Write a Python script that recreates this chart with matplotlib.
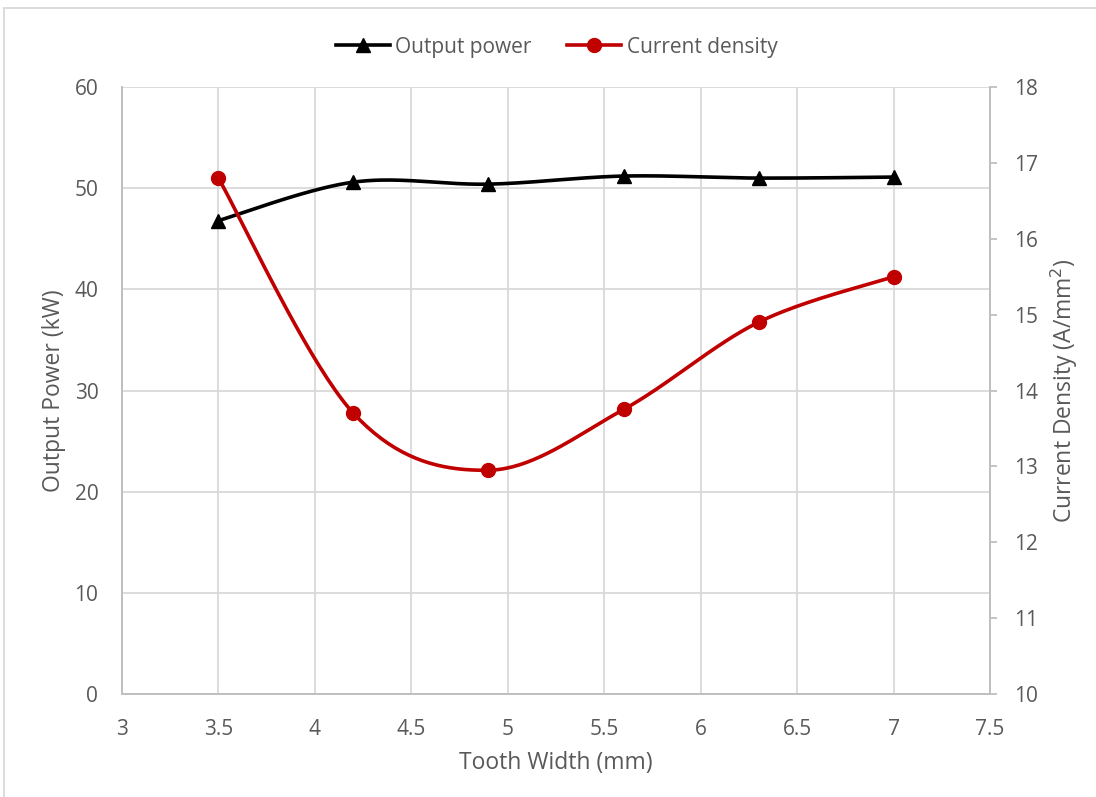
import numpy as np
import matplotlib
matplotlib.use("Agg")
import matplotlib.pyplot as plt
from matplotlib.patches import Rectangle

plt.rcParams['font.family'] = ['Open Sans', 'DejaVu Sans']

tooth_width = [3.5, 4.2, 4.9, 5.6, 6.3, 7.0]
output_power = [46.8, 50.6, 50.4, 51.2, 51.0, 51.1]
current_density = [16.8, 13.7, 12.95, 13.75, 14.9, 15.5]

x_ticks = [3, 3.5, 4, 4.5, 5, 5.5, 6, 6.5, 7, 7.5]
x_tick_labels = ['3', '3.5', '4', '4.5', '5', '5.5', '6', '6.5', '7', '7.5']
left_ticks = [0, 10, 20, 30, 40, 50, 60]
right_ticks = [10, 11, 12, 13, 14, 15, 16, 17, 18]

TEXT = '#595959'
GRID = '#d9d9d9'
AXIS = '#bfbfbf'


def smooth(ax, xs, ys, n=40):
    """Spreadsheet-style smoothed line: cubic Bezier segments with
    Catmull-Rom control points computed in display space."""
    pts = ax.transData.transform(np.column_stack([xs, ys]))
    P = np.vstack([pts[0], pts, pts[-1]])
    out = []
    for i in range(1, len(P) - 2):
        p0, p1, p2, p3 = P[i - 1], P[i], P[i + 1], P[i + 2]
        c1 = p1 + (p2 - p0) / 6.0
        c2 = p2 - (p3 - p1) / 6.0
        t = np.linspace(0, 1, n)[:, None]
        seg = ((1 - t) ** 3) * p1 + 3 * ((1 - t) ** 2) * t * c1 \
            + 3 * (1 - t) * t ** 2 * c2 + t ** 3 * p2
        out.append(seg if i == 1 else seg[1:])
    seg = np.vstack(out)
    data = ax.transData.inverted().transform(seg)
    return data[:, 0], data[:, 1]


fig = plt.figure(figsize=(10.96, 7.97), dpi=100)
ax = fig.add_axes([0.1113, 0.1292, 0.792, 0.7616])
ax2 = ax.twinx()

ax.set_xlim(3, 7.5)
ax.set_ylim(0, 60)
ax2.set_ylim(10, 18)

ax.set_xticks(x_ticks)
ax.set_xticklabels(x_tick_labels)
ax.set_yticks(left_ticks)
ax2.set_yticks(right_ticks)

ax.grid(True, color=GRID, linewidth=1.3)
ax.set_axisbelow(True)

for a in (ax, ax2):
    a.spines['top'].set_visible(False)
    for side in ('left', 'right', 'bottom'):
        a.spines[side].set_color(AXIS)
        a.spines[side].set_linewidth(1.3)
    a.tick_params(colors=TEXT, labelsize=15, length=0)
ax.tick_params(axis='y', pad=17)
ax.tick_params(axis='x', pad=18)
ax2.tick_params(axis='y', length=5, color=AXIS, width=1.3, pad=12)

# Output power (left axis)
sx, sy = smooth(ax, tooth_width, output_power)
ax.plot(sx, sy, color='black', linewidth=2.6, zorder=3)
ax.plot(tooth_width, output_power, linestyle='none', marker='^',
        markersize=10.5, color='black', zorder=4)

# Current density (right axis)
cx, cy = smooth(ax2, tooth_width, current_density)
ax2.plot(cx, cy, color='#c00000', linewidth=2.6, zorder=3)
ax2.plot(tooth_width, current_density, linestyle='none', marker='o',
         markersize=10, color='#c00000', zorder=4)

ax.set_xlabel('Tooth Width (mm)', color=TEXT, fontsize=16.5, labelpad=8)
ax.set_ylabel('Output Power (kW)', color=TEXT, fontsize=16.5, labelpad=6)
ax2.set_ylabel('Current Density (A/mm$^2$)', color=TEXT, fontsize=16.5,
               labelpad=8)

# Legend entries
h1, = ax.plot([], [], color='black', linewidth=2.6, marker='^', markersize=10.5)
h2, = ax.plot([], [], color='#c00000', linewidth=2.6, marker='o', markersize=10)
leg = fig.legend([h1, h2], ['Output power', 'Current density'],
                 loc='center', bbox_to_anchor=(0.508, 0.941), ncol=2,
                 frameon=False, fontsize=15, handlelength=2.6,
                 handletextpad=0.25, columnspacing=1.7)
for t in leg.get_texts():
    t.set_color(TEXT)

# Chart border
fig.patches.append(Rectangle((4 / 1096, -0.01), 1.0, 1 - 8 / 797 + 0.01,
                             transform=fig.transFigure, fill=False,
                             edgecolor='#d9d9d9', linewidth=1.3))

fig.savefig('out.png', dpi=100)
